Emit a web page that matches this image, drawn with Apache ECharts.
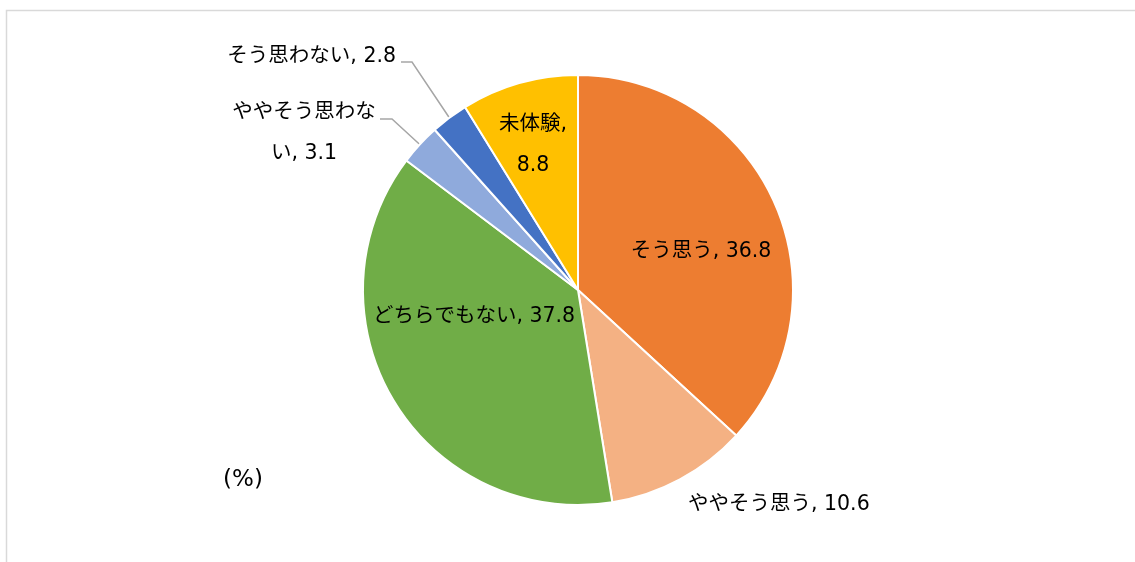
<!DOCTYPE html>
<html>
<head>
<meta charset="utf-8">
<script src="https://cdn.jsdelivr.net/npm/echarts@6/dist/echarts.min.js"></script>
<style>
  html, body { margin: 0; padding: 0; background: #fff; }
  #chart { width: 1135px; height: 562px; }
</style>
</head>
<body>
<div id="chart"></div>
<script>
// data
const categories = ["そう思う", "ややそう思う", "どちらでもない", "ややそう思わない", "そう思わない", "未体験"];
const values = [36.8, 10.6, 37.8, 3.1, 2.8, 8.8];
const colors = ["#ED7D31", "#F4B183", "#70AD47", "#8FAADC", "#4472C4", "#FFC000"];

// where each label's text wraps (char index, 0 = no wrap)
const labelWrap = [0, 0, 0, 7, 0, 4];
// label anchor positions, as placed in the original
const labelPos = [
  { x: 701, y: 252, align: "center" },
  { x: 688, y: 505, align: "left" },
  { x: 474, y: 317, align: "center" },
  { x: 304, y: 133, align: "center", line: [392, 380, 119] },
  { x: 396, y: 57, align: "right", line: [412, 401, 62] },
  { x: 533, y: 145, align: "center" },
];
const outside = [false, true, false, true, true, false];

// latin glyphs from DejaVu (wide, Meiryo-like), kana/kanji from Noto CJK
const font = '"DejaVu Sans", "Noto Sans CJK JP", sans-serif';

const mc = echarts.init(document.getElementById("chart"));

const option = {
  animation: false,
  graphic: [
    {
      type: "rect",
      shape: { x: 6.5, y: 10.5, width: 1140, height: 570 },
      style: { fill: "none", stroke: "#D9D9D9", lineWidth: 1.5 },
      silent: true,
    },
    {
      type: "text",
      x: 243,
      y: 480,
      style: {
        text: "(%)",
        fontSize: 23,
        fontFamily: font,
        fill: "#000",
        align: "center",
        verticalAlign: "middle",
      },
    },
  ],
  series: [
    {
      type: "pie",
      center: [578, 290],
      radius: 215,
      startAngle: 90,
      clockwise: true,
      avoidLabelOverlap: false,
      itemStyle: { borderColor: "#fff", borderWidth: 2 },
      label: {
        fontSize: 20.5,
        fontFamily: font,
        color: "#000",
        lineHeight: 41,
        formatter: (p) => {
          const s = p.name + ", " + p.value;
          const k = labelWrap[p.dataIndex];
          if (!k) return s;
          return s.slice(0, k) + "\n" + s.slice(k).trim();
        },
      },
      labelLine: {
        lineStyle: { color: "#A6A6A6", width: 1.5 },
      },
      labelLayout: (params) => {
        const pos = labelPos[params.dataIndex];
        const res = {
          x: pos.x,
          y: pos.y,
          align: pos.align,
          verticalAlign: "middle",
        };
        if (pos.line && params.labelLinePoints) {
          const p0 = params.labelLinePoints[0];
          res.labelLinePoints = [p0, [pos.line[0], pos.line[2]], [pos.line[1], pos.line[2]]];
        }
        return res;
      },
      data: categories.map((name, i) => ({
        name: name,
        value: values[i],
        itemStyle: { color: colors[i] },
        label: { position: outside[i] ? "outside" : "inside" },
        labelLine: { show: outside[i] && !!labelPos[i].line },
      })),
    },
  ],
};
mc.setOption(option);
</script>
</body>
</html>
